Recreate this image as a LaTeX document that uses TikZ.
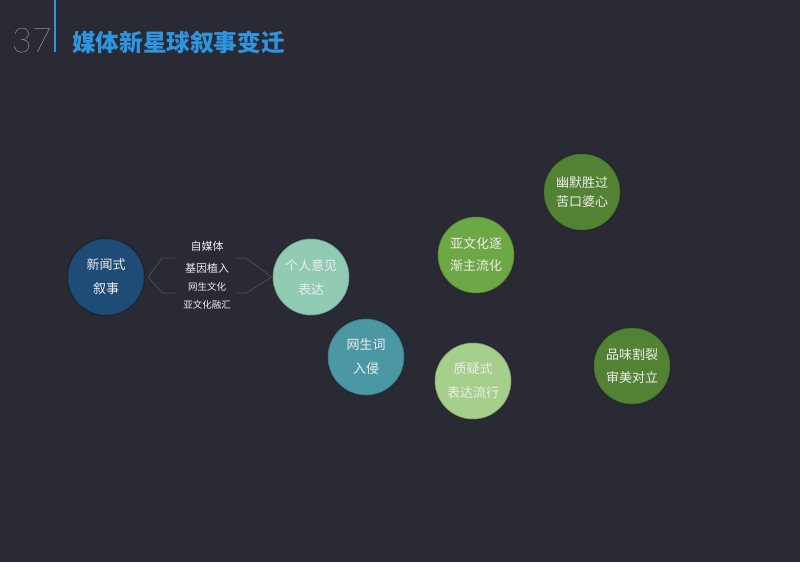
\documentclass[tikz,border=0pt]{standalone}
\usepackage{fontspec}
\setmainfont{Liberation Sans}
\newfontfamily\cjk{Noto Sans CJK SC}
\newfontfamily\thinfont{Lato Hairline}
\definecolor{bgc}{HTML}{2A2A34}
\definecolor{titleblue}{HTML}{2E96E0}
\definecolor{cblue}{HTML}{1E4C77}
\definecolor{cmint}{HTML}{92CBB3}
\definecolor{cteal}{HTML}{4B98A4}
\definecolor{clgreen}{HTML}{A6CF8B}
\definecolor{cgreen}{HTML}{6EA846}
\definecolor{cdgreen}{HTML}{538234}
\definecolor{ctext}{HTML}{EDEDED}
\definecolor{bline}{HTML}{4C4C58}
\tikzset{
  bubble/.style={circle, minimum size=77pt, inner sep=0pt, fill=#1,
    draw=black!70!bgc, draw opacity=0.35, line width=1.5pt,
    text=ctext, align=center, font=\cjk\fontsize{13}{24}\selectfont},
  midtext/.style={text=ctext, inner sep=0pt, font=\cjk\fontsize{11}{13}\selectfont},
  smalltext/.style={text=ctext, inner sep=0pt, font=\cjk\fontsize{9.5}{11}\selectfont},
  bracket/.style={draw=bline, line width=0.8pt}
}
\begin{document}
\begin{tikzpicture}[x=1pt,y=-1pt]
\fill[bgc] (0,0) rectangle (800,562);
\useasboundingbox (0,0) rectangle (800,562);
% header
\draw[titleblue, line width=2pt] (55,0) -- (55,52);
\node[anchor=base west, inner sep=0pt, text=black!12, font=\thinfont\fontsize{34}{34}\selectfont] (num) at (12,52) {37};
\node[anchor=west, inner sep=0pt, text=titleblue, font=\cjk\bfseries\fontsize{23.6}{24}\selectfont] (title) at (72,43) {媒体新星球叙事变迁};
% bubbles
\node[bubble=cblue] (a) at (106,277) {新闻式\\叙事};
\node[bubble=cmint] (b) at (311,277) {个人意见\\表达};
\node[bubble=cteal] (c) at (366,357) {网生词\\入侵};
\node[bubble=clgreen] (d) at (473,381) {质疑式\\表达流行};
\node[bubble=cgreen, font=\cjk\fontsize{13}{22}\selectfont] (e) at (476,255) {亚文化逐\\渐主流化};
\node[bubble=cdgreen, font=\cjk\fontsize{13}{19.5}\selectfont] (f) at (582,192) {幽默胜过\\苦口婆心};
\node[bubble=cdgreen, font=\cjk\fontsize{13}{23}\selectfont] (g) at (632,366) {品味割裂\\审美对立};
% middle texts
\node[midtext] (m1) at (207,246) {自媒体};
\node[midtext] (m2) at (207,268) {基因植入};
\node[smalltext] (m3) at (207,287) {网生文化};
\node[smalltext] (m4) at (207,305) {亚文化融汇};
% brackets
\coordinate (la) at ([xshift=3pt]a.east);
\draw[bracket] (175,258) -- (162,258) -- (la) -- (162,293) -- (175,293);
\draw[bracket] (237,258) -- (246,258) -- (b.west) -- (246,293) -- (237,293);
\end{tikzpicture}
\end{document}
